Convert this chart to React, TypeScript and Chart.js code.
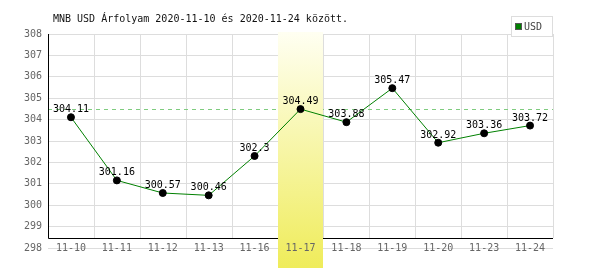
import React, { useEffect, useRef } from "react";
import { Chart, registerables } from "chart.js";

Chart.register(...registerables);

const categories = ["11-10", "11-11", "11-12", "11-13", "11-16", "11-17", "11-18", "11-19", "11-20", "11-23", "11-24"];
const usdValues = [304.11, 301.16, 300.57, 300.46, 302.3, 304.49, 303.88, 305.47, 302.92, 303.36, 303.72];
const valueLabels = ["304.11", "301.16", "300.57", "300.46", "302.3", "304.49", "303.88", "305.47", "302.92", "303.36", "303.72"];
const highlightIndex = 5;
const referenceValue = 304.49;
const yMin = 298;
const yMax = 308;
const titleText = "MNB USD Árfolyam 2020-11-10 és 2020-11-24 között.";
const legendLabel = "USD";

const MONO = "'DejaVu Sans Mono', monospace";

export default function App() {
  const ref = useRef<HTMLCanvasElement | null>(null);

  useEffect(() => {
    const canvas = ref.current;
    if (!canvas) return;

    const decor = {
      id: "decor",
      beforeDatasetsDraw(chart: any) {
        const ctx = chart.ctx;
        const a = chart.chartArea;
        const n = categories.length;
        const step = (a.right - a.left) / n;
        const axisY = a.bottom - 10;
        ctx.save();
        // vertical grid lines
        ctx.strokeStyle = "#dddddd";
        ctx.lineWidth = 1;
        for (let i = 1; i <= n; i++) {
          const x = Math.round(a.left + i * step) + 0.5;
          ctx.beginPath();
          ctx.moveTo(x, a.top);
          ctx.lineTo(x, axisY);
          ctx.stroke();
        }
        // dashed reference line
        const ry = Math.round(chart.scales.y.getPixelForValue(referenceValue)) + 0.5;
        ctx.strokeStyle = "#7fcc7f";
        ctx.setLineDash([4, 4]);
        ctx.beginPath();
        ctx.moveTo(a.left, ry);
        ctx.lineTo(a.right, ry);
        ctx.stroke();
        ctx.setLineDash([]);
        // black axes
        ctx.strokeStyle = "#000000";
        ctx.beginPath();
        ctx.moveTo(a.left + 0.5, a.top);
        ctx.lineTo(a.left + 0.5, axisY + 0.5);
        ctx.lineTo(a.right, axisY + 0.5);
        ctx.stroke();
        // highlight band
        const x0 = Math.round(a.left + highlightIndex * step);
        const x1 = Math.round(a.left + (highlightIndex + 1) * step);
        const top = a.top - 2;
        const bottom = chart.height - 2;
        const g = ctx.createLinearGradient(0, top, 0, bottom);
        g.addColorStop(0, "#fffff2");
        g.addColorStop(1, "#efec5a");
        ctx.fillStyle = g;
        ctx.fillRect(x0, top, x1 - x0, bottom - top);
        // x tick labels, centred on the bottom grid line
        const xs = chart.scales.x;
        ctx.fillStyle = "#666666";
        ctx.font = `10px ${MONO}`;
        ctx.textAlign = "center";
        ctx.textBaseline = "middle";
        categories.forEach((c, i) => {
          ctx.fillText(c, xs.getPixelForValue(i), a.bottom);
        });
        ctx.restore();
      },
      afterDatasetsDraw(chart: any) {
        const ctx = chart.ctx;
        const meta = chart.getDatasetMeta(0);
        ctx.save();
        ctx.font = `10px ${MONO}`;
        ctx.fillStyle = "#000000";
        ctx.textAlign = "center";
        ctx.textBaseline = "alphabetic";
        meta.data.forEach((pt: any, i: number) => {
          ctx.fillText(valueLabels[i], pt.x, pt.y - 5);
        });
        // title
        ctx.fillStyle = "#111111";
        ctx.textAlign = "left";
        ctx.textBaseline = "middle";
        ctx.font = `10px ${MONO}`;
        ctx.fillText(titleText, 53, 19);
        // legend
        ctx.fillStyle = "#ffffff";
        ctx.fillRect(511, 16, 41, 20);
        ctx.strokeStyle = "#dddddd";
        ctx.strokeRect(511.5, 16.5, 41, 20);
        ctx.fillStyle = "#008000";
        ctx.fillRect(515, 23, 7, 7);
        ctx.strokeStyle = "#555555";
        ctx.strokeRect(515.5, 23.5, 6, 6);
        ctx.fillStyle = "#444444";
        ctx.font = `10px ${MONO}`;
        ctx.fillText(legendLabel, 524, 27);
        ctx.restore();
      },
    };

    const chart = new Chart(canvas, {
      type: "line",
      data: {
        labels: categories,
        datasets: [
          {
            label: legendLabel,
            data: usdValues,
            borderColor: "#008000",
            borderWidth: 1,
            backgroundColor: "#000000",
            pointBackgroundColor: "#000000",
            pointBorderColor: "#000000",
            pointRadius: 3.5,
            pointBorderWidth: 1,
            tension: 0,
            fill: false,
          },
        ],
      },
      options: {
        responsive: false,
        animation: false,
        devicePixelRatio: 1,
        layout: { padding: { left: 0, top: 34, right: 47, bottom: 0 } },
        plugins: {
          legend: { display: false },
          title: { display: false },
          tooltip: { enabled: false },
        },
        scales: {
          x: {
            type: "category",
            offset: true,
            grid: { display: false, drawTicks: false },
            border: { display: false },
            ticks: { display: false },
            afterFit: (s: any) => {
              s.height = 22;
            },
          },
          y: {
            min: yMin,
            max: yMax,
            grid: { color: "#dddddd", drawTicks: false },
            border: { display: false },
            ticks: {
              stepSize: 1,
              color: "#666666",
              font: { family: MONO, size: 10 },
              padding: 6,
            },
            afterFit: (s: any) => {
              s.width = 48;
            },
          },
        },
      },
      plugins: [decor],
    } as any);

    return () => chart.destroy();
  }, []);

  return (
    <canvas
      ref={ref}
      width={600}
      height={270}
      style={{ position: "fixed", left: 0, top: 0, width: 600, height: 270, background: "#ffffff" }}
    />
  );
}
